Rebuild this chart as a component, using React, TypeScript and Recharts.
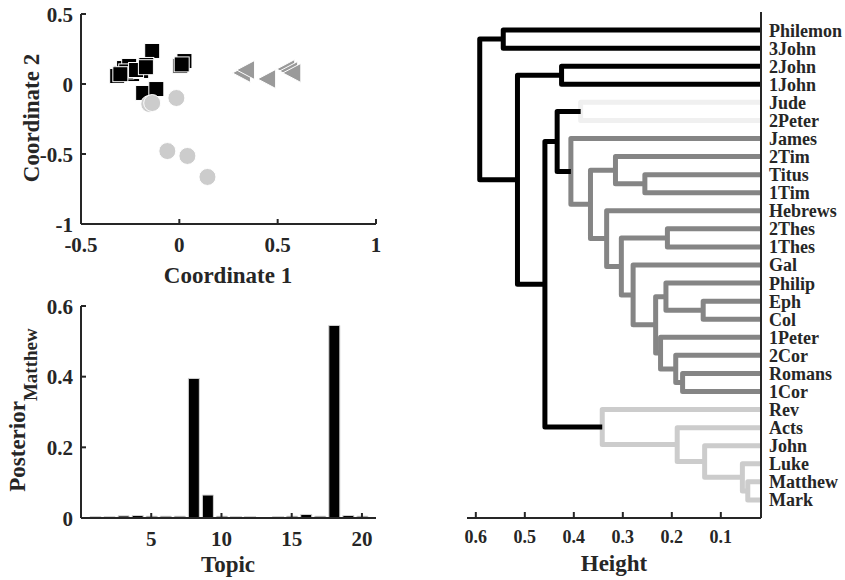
import React from 'react';
import {
  ScatterChart,
  Scatter,
  BarChart,
  Bar,
  ComposedChart,
  Line,
  XAxis,
  YAxis,
  Label,
} from 'recharts';

const FONT = '"Liberation Serif", "Times New Roman", Times, serif';
const AXIS = '#262626';
const TICK_FS = 21;
const LEAF_FS = 18;
const TITLE_FS = 23;

// ---------- MDS scatter (Coordinate 1 / Coordinate 2) ----------
const squareX = [-0.138, 0.026, 0.005, -0.168, -0.316, -0.296, -0.281, -0.255, -0.24, -0.194, -0.184, -0.117, -0.27, -0.22, -0.3, -0.17, 0.012];
const squareY = [0.236, 0.164, 0.129, 0.136, 0.057, 0.079, 0.114, 0.129, 0.071, 0.093, -0.064, -0.036, 0.09, 0.1, 0.07, 0.12, 0.14];
const circleX = [-0.153, -0.138, -0.015, -0.061, 0.041, 0.143];
const circleY = [-0.143, -0.136, -0.1, -0.479, -0.514, -0.664];
const triangleX = [0.321, 0.342, 0.449, 0.546, 0.561, 0.577];
const triangleY = [0.079, 0.1, 0.036, 0.107, 0.093, 0.079];
const scatterXTicks = [-0.5, 0, 0.5, 1];
const scatterYTicks = [-1, -0.5, 0, 0.5];

// ---------- Posterior of Matthew over topics ----------
const topics = [1, 2, 3, 4, 5, 6, 7, 8, 9, 10, 11, 12, 13, 14, 15, 16, 17, 18, 19, 20];
const posterior = [0.004, 0.004, 0.006, 0.007, 0.005, 0.005, 0.005, 0.395, 0.065, 0.005, 0.004, 0.004, 0, 0.004, 0.005, 0.01, 0.005, 0.545, 0.007, 0.005];
const topicTicks = [5, 10, 15, 20];
const posteriorTicks = [0, 0.2, 0.4, 0.6];

// ---------- Dendrogram ----------
const leafNames = [
  'Philemon', '3John', '2John', '1John', 'Jude', '2Peter', 'James', '2Tim', 'Titus', '1Tim',
  'Hebrews', '2Thes', '1Thes', 'Gal', 'Philip', 'Eph', 'Col', '1Peter', '2Cor', 'Romans',
  '1Cor', 'Rev', 'Acts', 'John', 'Luke', 'Matthew', 'Mark',
];
// leaves are 1..27 (display order), merged nodes are 28, 29, ...
const mergeLeft = [26, 25, 24, 16, 20, 23, 19, 12, 15, 18, 36, 9, 14, 35, 8, 11, 22, 42, 5, 7, 3, 46, 49, 48, 1, 52];
const mergeRight = [27, 28, 29, 17, 21, 30, 32, 13, 31, 34, 37, 10, 38, 40, 39, 41, 33, 43, 6, 45, 4, 47, 44, 50, 2, 51];
const mergeHeight = [0.045, 0.056, 0.133, 0.136, 0.178, 0.189, 0.192, 0.209, 0.212, 0.223, 0.233, 0.255, 0.279, 0.303, 0.315, 0.333, 0.342, 0.366, 0.386, 0.406, 0.425, 0.434, 0.459, 0.515, 0.544, 0.592];
const mergeGroup = ['L', 'L', 'L', 'G', 'G', 'L', 'G', 'G', 'G', 'G', 'G', 'G', 'G', 'G', 'G', 'G', 'L', 'G', 'V', 'G', 'K', 'K', 'K', 'K', 'K', 'K'];
const groupColor: Record<string, string> = { K: '#000000', G: '#858585', L: '#cccccc', V: '#f0f0f0' };
const heightTicks = [0.1, 0.2, 0.3, 0.4, 0.5, 0.6];

const squares = squareX.map((x, i) => ({ x, y: squareY[i] }));
const circles = circleX.map((x, i) => ({ x, y: circleY[i] }));
const triangles = triangleX.map((x, i) => ({ x, y: triangleY[i] }));
const barData = topics.map((t, i) => ({ topic: t, value: posterior[i] }));

const leafTicks = leafNames.map((_, i) => i + 1);
const nodeH: Record<number, number> = {};
const nodeY: Record<number, number> = {};
leafNames.forEach((_, i) => {
  nodeH[i + 1] = 0;
  nodeY[i + 1] = i + 1;
});
const links = mergeHeight.map((h, k) => {
  const id = leafNames.length + 1 + k;
  const a = mergeLeft[k];
  const b = mergeRight[k];
  nodeH[id] = h;
  nodeY[id] = (nodeY[a] + nodeY[b]) / 2;
  return {
    id,
    color: groupColor[mergeGroup[k]],
    pts: [
      { h: nodeH[a], y: nodeY[a] },
      { h, y: nodeY[a] },
      { h, y: nodeY[b] },
      { h: nodeH[b], y: nodeY[b] },
    ],
  };
});

const txt = {
  fontFamily: FONT,
  fontWeight: 'bold' as const,
  fill: AXIS,
};

const LeftTick = (p: any) => (
  <g>
    <line x1={p.x} x2={p.x + 5} y1={p.y} y2={p.y} stroke={AXIS} strokeWidth={2} />
    <text x={p.x - 8} y={p.y} dy="0.36em" textAnchor="end" fontSize={TICK_FS} {...txt}>
      {String(p.payload.value)}
    </text>
  </g>
);

const BottomTick = (p: any) => (
  <g>
    <line x1={p.x} x2={p.x} y1={p.y} y2={p.y - 5} stroke={AXIS} strokeWidth={2} />
    <text x={p.x} y={p.y + 28} textAnchor="middle" fontSize={TICK_FS} {...txt}>
      {String(p.payload.value)}
    </text>
  </g>
);

const RightLeafTick = (p: any) => (
  <text x={p.x + 8} y={p.y} dy="0.36em" textAnchor="start" fontSize={LEAF_FS} {...txt}>
    {leafNames[p.payload.value - 1]}
  </text>
);

function ScatterPanel() {
  return (
    <ScatterChart width={400} height={290} margin={{ top: 14, right: 24, left: 0, bottom: 0 }} style={{ fontFamily: FONT }}>
      <XAxis
        type="number"
        dataKey="x"
        domain={[-0.5, 1]}
        ticks={scatterXTicks}
        interval={0}
        height={66}
        tickSize={0}
        tickMargin={0}
        tick={BottomTick}
        axisLine={{ stroke: AXIS, strokeWidth: 2 }}
      >
        <Label
          content={() => (
            <text x={228} y={283} textAnchor="middle" fontSize={TITLE_FS} {...txt}>
              Coordinate 1
            </text>
          )}
        />
      </XAxis>
      <YAxis
        type="number"
        dataKey="y"
        domain={[-1, 0.5]}
        ticks={scatterYTicks}
        interval={0}
        width={81}
        tickSize={0}
        tickMargin={0}
        tick={LeftTick}
        axisLine={{ stroke: AXIS, strokeWidth: 2 }}
      >
        <Label
          content={() => (
            <text x={39} y={118} transform="rotate(-90, 39, 118)" textAnchor="middle" fontSize={TITLE_FS} {...txt}>
              Coordinate 2
            </text>
          )}
        />
      </YAxis>
      <Scatter
        data={squares}
        isAnimationActive={false}
        shape={(p: any) => (
          <rect x={p.cx - 7.5} y={p.cy - 7.5} width={15} height={15} fill="#000" stroke="#fff" strokeWidth={1} />
        )}
      />
      <Scatter
        data={circles}
        isAnimationActive={false}
        shape={(p: any) => <circle cx={p.cx} cy={p.cy} r={8.5} fill="#cccccc" stroke="#fff" strokeWidth={1} />}
      />
      <Scatter
        data={triangles}
        isAnimationActive={false}
        shape={(p: any) => (
          <polygon
            points={`${p.cx - 10},${p.cy} ${p.cx + 8},${p.cy - 9.5} ${p.cx + 8},${p.cy + 9.5}`}
            fill="#9a9a9a"
            stroke="#fff"
            strokeWidth={1}
          />
        )}
      />
    </ScatterChart>
  );
}

function BarPanel() {
  return (
    <BarChart width={400} height={290} data={barData} margin={{ top: 16, right: 24, left: 0, bottom: 0 }} style={{ fontFamily: FONT }}>
      <XAxis
        type="number"
        dataKey="topic"
        domain={[0, 21]}
        ticks={topicTicks}
        interval={0}
        height={62}
        tickSize={0}
        tickMargin={0}
        tick={BottomTick}
        axisLine={{ stroke: AXIS, strokeWidth: 2 }}
      >
        <Label
          content={() => (
            <text x={228} y={282} textAnchor="middle" fontSize={TITLE_FS} {...txt}>
              Topic
            </text>
          )}
        />
      </XAxis>
      <YAxis
        type="number"
        domain={[0, 0.6]}
        ticks={posteriorTicks}
        interval={0}
        width={81}
        tickSize={0}
        tickMargin={0}
        tick={LeftTick}
        axisLine={{ stroke: AXIS, strokeWidth: 2 }}
      >
        <Label
          content={() => (
            <text x={25} y={120} transform="rotate(-90, 25, 120)" textAnchor="middle" fontSize={TITLE_FS} {...txt}>
              <tspan>Posterior</tspan>
              <tspan dy={12} fontSize={19}>Matthew</tspan>
            </text>
          )}
        />
      </YAxis>
      <Bar dataKey="value" barSize={11} fill="#000" stroke="#d4d4d4" strokeWidth={1} isAnimationActive={false} />
    </BarChart>
  );
}

function DendroPanel() {
  return (
    <ComposedChart width={405} height={580} margin={{ top: 12, right: 0, left: 27, bottom: 0 }} style={{ fontFamily: FONT }}>
      <XAxis
        type="number"
        dataKey="h"
        domain={[0.018, 0.618]}
        allowDataOverflow
        reversed
        ticks={heightTicks}
        interval={0}
        height={62}
        tickSize={0}
        tickMargin={0}
        tick={(p: any) => (
          <g>
            <line x1={p.x} x2={p.x} y1={p.y} y2={p.y - 6} stroke={AXIS} strokeWidth={2} />
            <text x={p.x} y={p.y + 25} textAnchor="middle" fontSize={LEAF_FS} {...txt}>
              {String(p.payload.value)}
            </text>
          </g>
        )}
        axisLine={{ stroke: AXIS, strokeWidth: 2 }}
      >
        <Label
          content={() => (
            <text x={174} y={571} textAnchor="middle" fontSize={TITLE_FS} {...txt}>
              Height
            </text>
          )}
        />
      </XAxis>
      <YAxis
        type="number"
        orientation="right"
        domain={[0, 28]}
        allowDataOverflow
        reversed
        ticks={leafTicks}
        interval={0}
        width={84}
        tickSize={0}
        tickMargin={0}
        tick={RightLeafTick}
        axisLine={{ stroke: AXIS, strokeWidth: 2 }}
      />
      {links.map((l) => (
        <Line
          key={l.id}
          data={l.pts}
          dataKey="y"
          type="linear"
          stroke={l.color}
          strokeWidth={5}
          strokeLinejoin="round"
          dot={false}
          activeDot={false}
          isAnimationActive={false}
        />
      ))}
    </ComposedChart>
  );
}

export default function App() {
  return (
    <div style={{ position: 'absolute', left: 0, top: 0, width: 845, height: 580, background: '#fff' }}>
      <div style={{ position: 'absolute', left: 0, top: 0 }}>
        <ScatterPanel />
      </div>
      <div style={{ position: 'absolute', left: 0, top: 290 }}>
        <BarPanel />
      </div>
      <div style={{ position: 'absolute', left: 440, top: 0 }}>
        <DendroPanel />
      </div>
    </div>
  );
}
